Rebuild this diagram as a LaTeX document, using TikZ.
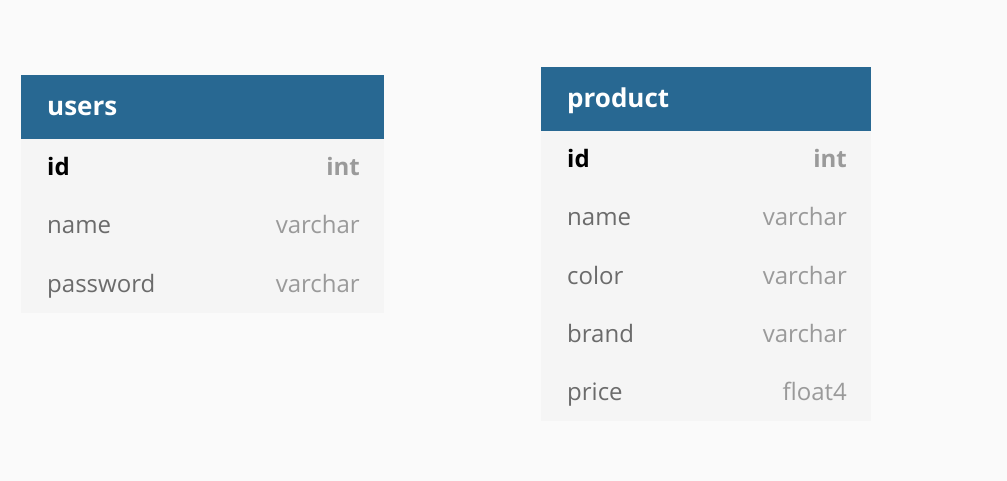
\documentclass[tikz,border=0pt]{standalone}
\usepackage{fontspec}
\setmainfont{Open Sans}
\definecolor{bg}{HTML}{FAFAFA}
\definecolor{hdr}{HTML}{286892}
\definecolor{body}{HTML}{F5F5F5}
\definecolor{fld}{HTML}{6B6B6B}
\definecolor{typ}{HTML}{9A9A9A}
\tikzset{
  hdrbox/.style={fill=hdr, draw=none},
  bodybox/.style={fill=body, draw=none},
  title/.style={anchor=base west, text=white, font=\fontsize{26}{30}\selectfont\bfseries, inner sep=0pt},
  fname/.style={anchor=base west, text=fld, font=\fontsize{24}{28}\selectfont, inner sep=0pt},
  ftype/.style={anchor=base east, text=typ, font=\fontsize{24}{28}\selectfont, inner sep=0pt},
  pkname/.style={anchor=base west, text=black, font=\fontsize{24}{28}\selectfont\bfseries, inner sep=0pt},
  pktype/.style={anchor=base east, text=typ, font=\fontsize{24}{28}\selectfont\bfseries, inner sep=0pt},
}
\begin{document}
\begin{tikzpicture}[x=1pt,y=-1pt]
\fill[bg] (0,0) rectangle (1007,481);
\useasboundingbox (0,0) rectangle (1007,481);
% users
\fill[bodybox] (21,139) rectangle (384,313);
\fill[hdrbox] (21,75) rectangle (384,139);
\node[title] (usersT) at (47,115.5) {users};
\node[pkname] (u1n) at (47,176) {id};
\node[pktype] (u1t) at (360,176) {int};
\node[fname] (u2n) at (47,234) {name};
\node[ftype] (u2t) at (360,234) {varchar};
\node[fname] (u3n) at (47,292) {password};
\node[ftype] (u3t) at (360,292) {varchar};
% product
\fill[bodybox] (541,131) rectangle (871,421);
\fill[hdrbox] (541,67) rectangle (871,131);
\node[title] (prodT) at (567,107.5) {product};
\node[pkname] (p1n) at (567,168) {id};
\node[pktype] (p1t) at (847,168) {int};
\node[fname] (p2n) at (567,226) {name};
\node[ftype] (p2t) at (847,226) {varchar};
\node[fname] (p3n) at (567,284) {color};
\node[ftype] (p3t) at (847,284) {varchar};
\node[fname] (p4n) at (567,342) {brand};
\node[ftype] (p4t) at (847,342) {varchar};
\node[fname] (p5n) at (567,400) {price};
\node[ftype] (p5t) at (847,400) {float4};
\end{tikzpicture}
\end{document}
